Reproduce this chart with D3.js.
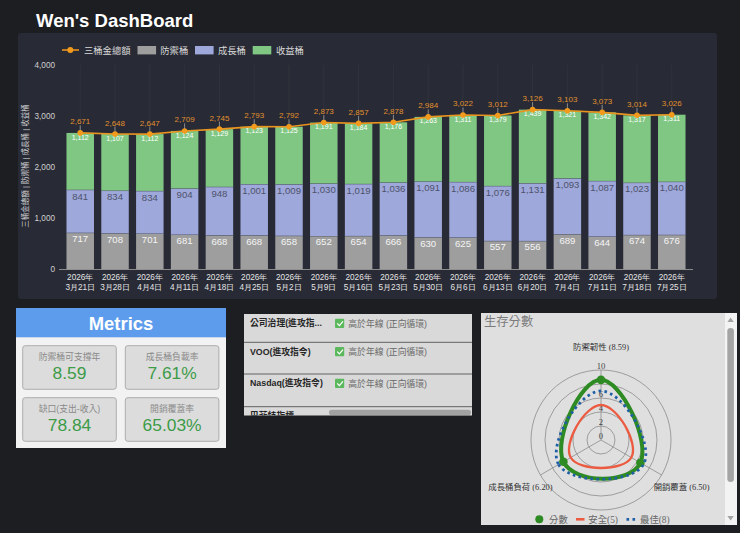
<!DOCTYPE html>
<html><head><meta charset="utf-8">
<script src="https://cdn.jsdelivr.net/npm/d3@7"></script>
<style>
html,body{margin:0;padding:0;background:#1d1e22;overflow:hidden;}
svg{display:block;font-family:"Liberation Sans",Arial,"Noto Sans CJK TC",sans-serif;}
</style></head><body>
<svg id="c" width="740" height="533"></svg>
<script>
// ---------- data ----------
const yearLabel = "2026年";
const categories = ["3月21日","3月28日","4月4日","4月11日","4月18日","4月25日","5月2日","5月9日","5月16日","5月23日","5月30日","6月6日","6月13日","6月20日","7月4日","7月11日","7月18日","7月25日"];
const defenseVals = [717,708,701,681,668,668,658,652,654,666,630,625,557,556,689,644,674,676];
const growthVals  = [841,834,834,904,948,1001,1009,1030,1019,1036,1091,1086,1076,1131,1093,1087,1023,1040];
const incomeVals  = [1112,1107,1112,1124,1129,1123,1125,1191,1184,1176,1263,1311,1379,1439,1321,1342,1317,1311];
const totalVals   = [2671,2648,2647,2709,2745,2793,2792,2873,2857,2878,2984,3022,3012,3126,3103,3073,3014,3026];
const yTicks = [0,1000,2000,3000,4000];
const seriesNames = ["三桶金總額","防禦桶","成長桶","收益桶"];
const yTitle = "三桶金總額 | 防禦桶 | 成長桶 | 收益桶";

const metricLabels = ["防禦桶可支撐年","成長桶負載率","缺口(支出-收入)","開銷覆蓋率"];
const metricValues = ["8.59","7.61%","78.84","65.03%"];

const tableNames = ["公司治理(進攻指...","VOO(進攻指令)","Nasdaq(進攻指令)","巴菲特指標"];
const tableStatus = ["高於年線 (正向循環)","高於年線 (正向循環)","高於年線 (正向循環)",""];

const radarAxes = ["防禦韌性","成長桶負荷","開銷覆蓋"];
const radarScore = [8.59,6.20,6.50];
const radarSafe = [5,5,5];
const radarBest = [7,7,7];
const radarTicks = [0,2,4,6,8,10];
const radarLegend = ["分數","安全(5)","最佳(8)"];

// ---------- styles ----------
const C = {def:"#9e9e9e", gro:"#9fa8da", inc:"#81c784", tot:"#e8941f"};
const svg = d3.select("#c");

// title
svg.append("text").attr("x",36).attr("y",26.5).attr("fill","#fff")
  .attr("font-size",18.5).attr("font-weight","bold").text("Wen's DashBoard");

// chart panel
svg.append("rect").attr("x",18).attr("y",33).attr("width",699).attr("height",266)
  .attr("rx",3).attr("fill","#282a35");

const x = d3.scaleBand().domain(categories).range([59,693]).paddingInner(0.21).paddingOuter(0.215);
const y = d3.scaleLinear().domain([0,4000]).range([269.3,65]);
const bw = x.bandwidth();

// faint vertical grid
svg.append("g").selectAll("line").data(categories).join("line")
  .attr("x1",d=>x(d)+bw/2).attr("x2",d=>x(d)+bw/2).attr("y1",y(4000)).attr("y2",y(0))
  .attr("stroke","#ffffff").attr("stroke-opacity",0.04);

// y axis
const ya = svg.append("g").attr("transform","translate(57,0)")
  .call(d3.axisLeft(y).tickValues(yTicks).tickFormat(d3.format(",")).tickSize(0).tickPadding(2));
ya.select(".domain").remove();
ya.selectAll("text").attr("fill","#d0d0d0").attr("font-size",8.2).attr("font-family","Liberation Sans, Arial");

// y title
svg.append("text").attr("transform","translate(27.5,166) rotate(-90)").attr("text-anchor","middle")
  .attr("fill","#d0d0d0").attr("font-size",7.5).text(yTitle);

// x axis
const xa = svg.append("g").attr("transform","translate(0,269.5)")
  .call(d3.axisBottom(x).tickSize(0).tickPadding(0));
xa.select(".domain").attr("stroke","#8a8a8a").attr("d","M59,0H693");
xa.selectAll("text").each(function(d){
  const t = d3.select(this).text("").attr("fill","#e6e6e6").attr("font-size",8.2).attr("y",0);
  t.append("tspan").attr("x",0).attr("dy",10.5).text(yearLabel);
  t.append("tspan").attr("x",0).attr("dy",10).text(d);
});

// stacked bars
const rows = categories.map((c,i)=>({cat:c, defense:defenseVals[i], growth:growthVals[i], income:incomeVals[i]}));
const keys = ["defense","growth","income"];
const fills = {defense:C.def, growth:C.gro, income:C.inc};
const strokes = {defense:"#5d6070", growth:"#5d6478", income:"#64a867"};
const stacked = d3.stack().keys(keys)(rows);
const layers = svg.append("g").selectAll("g").data(stacked).join("g");
layers.selectAll("rect").data(L=>L.map(d=>({d, key:L.key}))).join("rect")
  .attr("x",o=>x(o.d.data.cat)).attr("width",bw)
  .attr("y",o=>y(o.d[1])).attr("height",o=>y(o.d[0])-y(o.d[1]))
  .attr("fill",o=>fills[o.key]);
// segment top borders
layers.filter(L=>L.key!=="income").selectAll("line").data(L=>L).join("line")
  .attr("x1",d=>x(d.data.cat)).attr("x2",d=>x(d.data.cat)+bw)
  .attr("y1",d=>y(d[1])).attr("y2",d=>y(d[1]))
  .attr("stroke","#4f5466").attr("stroke-width",1);

// segment labels
const lblStyle = {defense:{dy:9.5,fs:9.6,fill:"#f4f4f4"}, growth:{dy:9.8,fs:9.6,fill:"#4d536b"}, income:{dy:6.6,fs:7,fill:"#ffffff"}};
layers.selectAll("text").data(L=>L.map(d=>({d, key:L.key}))).join("text")
  .attr("x",o=>x(o.d.data.cat)+bw/2).attr("y",o=>y(o.d[1])+lblStyle[o.key].dy)
  .attr("text-anchor","middle").attr("font-size",o=>lblStyle[o.key].fs)
  .attr("fill",o=>lblStyle[o.key].fill)
  .text(o=>d3.format(",")(o.d.data[o.key]));

// total line
const cx = (d,i)=>x(categories[i])+bw/2;
svg.append("path").datum(totalVals)
  .attr("d", d3.line().x((d,i)=>cx(d,i)).y(d=>y(d)))
  .attr("fill","none").attr("stroke",C.tot).attr("stroke-width",1.6);
const tg = svg.append("g");
tg.selectAll("line").data(totalVals).join("line")
  .attr("x1",cx).attr("x2",cx).attr("y1",d=>y(d)-7.5).attr("y2",d=>y(d)-1)
  .attr("stroke","#8a8a8a").attr("stroke-width",1);
tg.selectAll("circle").data(totalVals).join("circle")
  .attr("cx",cx).attr("cy",d=>y(d)).attr("r",2.8).attr("fill","#f29a1c");
tg.selectAll("text").data(totalVals).join("text")
  .attr("x",cx).attr("y",d=>y(d)-8.5).attr("text-anchor","middle")
  .attr("font-size",8).attr("fill","#e0912e").text(d=>d3.format(",")(d));

// legend
const lg = svg.append("g");
lg.append("line").attr("x1",62).attr("x2",79).attr("y1",50).attr("y2",50).attr("stroke",C.tot).attr("stroke-width",1.6);
lg.append("circle").attr("cx",70.3).attr("cy",50).attr("r",3).attr("fill","#f29a1c");
const legItems = [{x:137.5,c:C.def},{x:195,c:C.gro},{x:252.7,c:C.inc}];
lg.selectAll("rect").data(legItems).join("rect")
  .attr("x",d=>d.x).attr("y",46).attr("width",18.6).attr("height",8.4).attr("fill",d=>d.c);
lg.selectAll("text").data(seriesNames).join("text")
  .attr("x",(d,i)=>[84,160.3,218,276][i]).attr("y",53.6)
  .attr("fill","#dadada").attr("font-size",9.3).text(d=>d);

// ---------- Metrics panel ----------
const mg = svg.append("g");
mg.append("rect").attr("x",16).attr("y",308).attr("width",210).attr("height",140).attr("fill","#f2f2f2");
mg.append("rect").attr("x",16).attr("y",308).attr("width",210).attr("height",29.3).attr("fill","#5d9cec");
mg.append("text").attr("x",121).attr("y",329.8).attr("text-anchor","middle").attr("fill","#fff")
  .attr("font-size",18.4).attr("font-weight","bold").text("Metrics");
const cards = metricLabels.map((l,i)=>({l, v:metricValues[i], cx: i%2===0?22.7:125.3, cy: i<2?345.7:397.7}));
const cg = mg.selectAll("g.card").data(cards).join("g").attr("class","card");
cg.append("rect").attr("x",d=>d.cx).attr("y",d=>d.cy).attr("width",93.6).attr("height",43.6)
  .attr("rx",2.5).attr("fill","#dcdcdc").attr("stroke","#a6a6a6").attr("stroke-width",0.9);
cg.append("text").attr("x",d=>d.cx+46.8).attr("y",d=>d.cy+14.6).attr("text-anchor","middle")
  .attr("fill","#8a8a8a").attr("font-size",8.8).text(d=>d.l);
cg.append("text").attr("x",d=>d.cx+46.8).attr("y",d=>d.cy+33.3).attr("text-anchor","middle")
  .attr("fill","#3d9b48").attr("font-size",17.4).text(d=>d.v);

// ---------- Table panel ----------
svg.append("clipPath").attr("id","tclip").append("rect").attr("x",244).attr("y",314).attr("width",228).attr("height",101.5);
const tb = svg.append("g").attr("clip-path","url(#tclip)");
tb.append("rect").attr("x",244).attr("y",314).attr("width",228).attr("height",102).attr("fill","#d9d9d9");
const rowTop = [314,342.3,374,406.7];
const tr = tb.selectAll("g.row").data(tableNames).join("g").attr("class","row");
tr.append("text").attr("x",250).attr("y",(d,i)=>rowTop[i]+12.4)
  .attr("fill","#262626").attr("font-size",8.8).attr("font-weight","bold").text(d=>d);
tr.filter((d,i)=>tableStatus[i]).each(function(d,i){
  const g = d3.select(this), yc = rowTop[i]+9.3;
  g.append("rect").attr("x",335).attr("y",yc-4.6).attr("width",9.2).attr("height",9.2).attr("rx",1).attr("fill","#5cb85c");
  g.append("path").attr("d",`M337.2,${yc} l2.2,2.3 l3.6,-4.2`).attr("fill","none").attr("stroke","#fff").attr("stroke-width",1.2);
  g.append("text").attr("x",348.3).attr("y",yc+3.2).attr("fill","#6a6a6a").attr("font-size",8.8).text(tableStatus[i]);
});
tb.selectAll("line.sep").data(rowTop.slice(1)).join("line").attr("class","sep")
  .attr("x1",244).attr("x2",472).attr("y1",d=>d).attr("y2",d=>d).attr("stroke","#555").attr("stroke-width",0.9);
tb.append("rect").attr("x",329).attr("y",409.8).attr("width",142).attr("height",5.2).attr("rx",2.6).attr("fill","#a2a2a2");

// ---------- Radar panel ----------
const rp = svg.append("g");
rp.append("rect").attr("x",481).attr("y",313).attr("width",256).attr("height",212).attr("fill","#dfdfdf");
rp.append("text").attr("x",484).attr("y",325.5).attr("fill","#7a7a7a").attr("font-size",12.3).text("生存分數");
// scrollbar
rp.append("rect").attr("x",725).attr("y",313).attr("width",12).attr("height",212).attr("fill","#f3f3f3");
rp.append("rect").attr("x",727.3).attr("y",328).attr("width",6.6).attr("height",154).attr("rx",3.3).attr("fill","#a4a4a4");
rp.append("path").attr("d","M730.6,317.5 l3.2,4.6 h-6.4z").attr("fill","#a4a4a4");
rp.append("path").attr("d","M730.6,520.5 l3.2,-4.6 h-6.4z").attr("fill","#a4a4a4");

const RC = {x:601, y:440};
const r = d3.scaleLinear().domain([0,10]).range([0,70]);
const angle = i => -i*2*Math.PI/3;
const rg = rp.append("g").attr("transform",`translate(${RC.x},${RC.y})`)
  .style("font-family","'Liberation Serif','Noto Sans CJK TC',serif");
rg.selectAll("circle.grid").data(radarTicks.filter(t=>t>0)).join("circle").attr("class","grid")
  .attr("r",d=>r(d)).attr("fill","none").attr("stroke","#8c8c8c").attr("stroke-width",0.8);
rg.selectAll("line.spoke").data(radarAxes).join("line").attr("class","spoke")
  .attr("x2",(d,i)=>r(10)*Math.sin(angle(i))).attr("y2",(d,i)=>-r(10)*Math.cos(angle(i)))
  .attr("stroke","#8c8c8c").attr("stroke-width",0.8);
rg.selectAll("text.tick").data(radarTicks).join("text").attr("class","tick")
  .attr("x",0).attr("y",d=>-r(d)-1).attr("text-anchor","middle").attr("font-size",8.6).attr("fill","#444").text(d=>d);
const radial = d3.lineRadial().angle((d,i)=>angle(i)).radius(d=>r(d)).curve(d3.curveCardinalClosed.tension(-0.6));
rg.append("path").attr("d",radial(radarScore)).attr("fill","none").attr("stroke","#2e8a22").attr("stroke-width",4);
rg.selectAll("circle.pt").data(radarScore).join("circle").attr("class","pt")
  .attr("cx",(d,i)=>r(d)*Math.sin(angle(i))).attr("cy",(d,i)=>-r(d)*Math.cos(angle(i)))
  .attr("r",4.3).attr("fill","#2e8a22");
rg.append("path").attr("d",radial(radarSafe)).attr("fill","none").attr("stroke","#ec5a40").attr("stroke-width",2.3);
rg.append("path").attr("d",radial(radarBest)).attr("fill","none").attr("stroke","#1f5fa6").attr("stroke-width",2.8).attr("stroke-dasharray","2.6,3.4");
rg.selectAll("text.ax").data(radarAxes).join("text").attr("class","ax")
  .attr("x",(d,i)=>93*Math.sin(angle(i))).attr("y",(d,i)=>-93*Math.cos(angle(i))+3)
  .attr("text-anchor","middle").attr("font-size",8.4).attr("fill","#333")
  .text((d,i)=>`${d} (${radarScore[i].toFixed(2)})`);
// radar legend
const rl = rp.append("g").style("font-family","'Liberation Serif','Noto Sans CJK TC',serif");
rl.append("circle").attr("cx",539.3).attr("cy",519.3).attr("r",4).attr("fill","#2e8a22");
rl.append("line").attr("x1",576).attr("x2",584.5).attr("y1",519.3).attr("y2",519.3).attr("stroke","#ec5a40").attr("stroke-width",2.6);
rl.append("line").attr("x1",626.5).attr("x2",636).attr("y1",519.3).attr("y2",519.3).attr("stroke","#1f5fa6").attr("stroke-width",2.8).attr("stroke-dasharray","2.6,3.4");
rl.selectAll("text").data(radarLegend).join("text")
  .attr("x",(d,i)=>[549,588.3,640][i]).attr("y",522.6).attr("font-size",9.4).attr("fill","#666").text(d=>d);
</script></body></html>
